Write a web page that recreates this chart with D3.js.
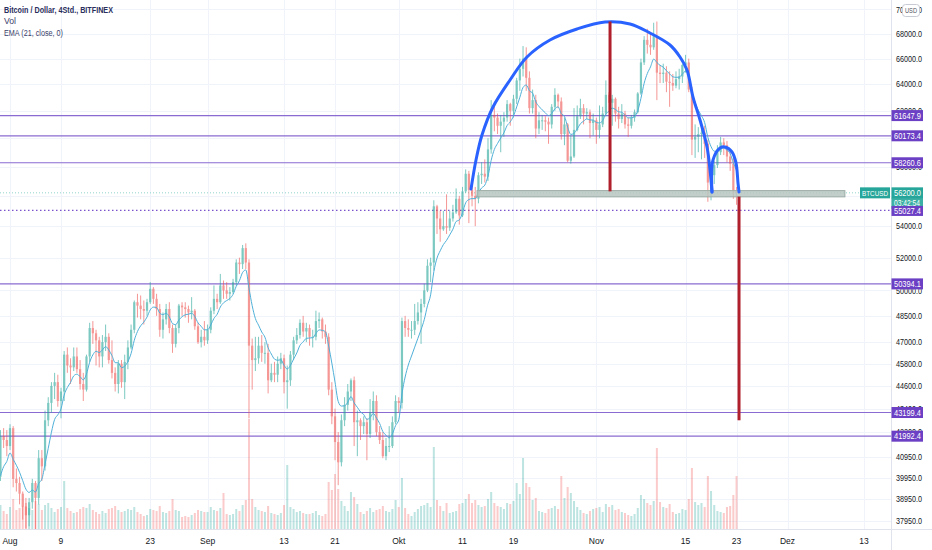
<!DOCTYPE html>
<html>
<head>
<meta charset="utf-8">
<script src="https://cdn.jsdelivr.net/npm/d3@7"></script>
<style>
html, body { margin: 0; padding: 0; background: #fff; }
svg { display: block; }
text { font-family: "Liberation Sans Narrow", "Liberation Sans", Arial, sans-serif; }
</style>
</head>
<body>
<div id="chart"></div>
<script>
// 12h candles, first one opens 2021-07-30 12:00 UTC, open = previous close
var firstOpen = 40000;
var closes = [
  42000,
  41800, 41500,
  // Aug
  42400, 39900, 39700, 39200, 38600, 38200, 38800, 39700, 39000, 40900, 40500, 42800, 43700, 44600,
  44800, 43800, 44300, 46300, 45700, 45600, 46200, 45500, 44700, 44400, 46200, 47800, 47500, 47100,
  46200, 47000, 47300, 46000, 45300, 44700, 45800, 44800, 45900, 46700, 47700, 49300, 49100, 48900,
  48800, 49300, 50100, 49500, 48900, 47700, 48300, 48900, 47800, 46900, 47800, 49100, 49000, 48900,
  48700, 48800, 47900, 47000, 47300, 47100,
  // Sep
  47700, 48800, 49500, 49300, 50300, 50000, 49800, 49900, 50500, 51700, 51600, 52600, 51700, 46800,
  46000, 46100, 46800, 46400, 46400, 44900, 45300, 45200, 45800, 46100, 44800, 44900, 46300, 47100,
  47400, 48100, 47600, 47800, 47300, 47300, 48200, 48300, 47600, 47300, 44400, 43000, 41700, 40700,
  42800, 43600, 44300, 44900, 42700, 42800, 42500, 42700, 42100, 43200, 43800, 42200, 41800, 41000,
  41500, 41500, 42700, 43800,
  // Oct
  43700, 48200, 47800, 47700, 47700, 48200, 48700, 49200, 50000, 51500, 51700, 55300, 54500, 53800,
  54000, 53900, 54500, 54900, 55800, 54700, 56300, 57500, 56400, 56000, 55800, 57400, 57500, 57300,
  59200, 61700, 61500, 60900, 61200, 61500, 62500, 62000, 62900, 64300, 65200, 66000, 64500, 62200,
  62800, 60700, 61300, 61300, 61200, 61000, 62300, 63200, 62700, 60300, 61000, 58400, 58700, 60600,
  61600, 62200, 61800, 61900, 61100, 61300,
  // Nov
  60600, 61000, 61800, 63200, 62600, 62900, 61800, 61400, 61800, 61000, 60900, 61500, 61900, 63300,
  65700, 67500, 67100, 66900, 67800, 64900, 64800, 64900, 64200, 64100, 63900, 64400, 64600, 65500,
  65700, 63600, 59900, 60100, 60300, 60400, 59600, 56900, 57400, 58100, 59000, 59700, 59500, 58700,
  58200, 56300, 56200
];
var highs = [
  42300,
  42400, 42300,
  42600, 42500, 40400, 40000, 39300, 39000, 39000, 39900, 39800, 41300, 41300, 43300, 44000, 44800,
  45300, 45200, 44500, 46500, 46700, 46100, 46700, 46700, 46000, 45300, 46300, 48100, 48200, 47700,
  47300, 47400, 48000, 47500, 47100, 45600, 46000, 46000, 46300, 47100, 48000, 49400, 49800, 49700,
  49400, 49500, 50500, 50200, 49800, 49200, 48700, 49200, 49300, 48000, 48000, 49200, 49300, 49300,
  49100, 49600, 48900, 48100, 47700, 48200,
  48000, 49000, 50300, 49800, 51000, 50600, 50500, 50200, 50700, 51900, 52000, 52800, 52900, 51900,
  47200, 47300, 47300, 47400, 47000, 46900, 45800, 45900, 46200, 46400, 46300, 45700, 46500, 47300,
  47800, 48300, 48500, 48100, 48000, 47700, 48800, 48700, 48400, 48000, 47500, 44800, 43400, 42200,
  43100, 44000, 44700, 45000, 45100, 43300, 42900, 43000, 42900, 43900, 44300, 44100, 42500, 42200,
  41900, 42500, 43000, 44100,
  44000, 48400, 48500, 48300, 48200, 49200, 49300, 49500, 50400, 51900, 52000, 55700, 55400, 55000,
  55000, 56100, 55000, 55400, 56500, 56000, 56600, 57800, 57700, 57000, 56600, 57600, 58300, 58500,
  60000, 62800, 62300, 61800, 61700, 61900, 62800, 62600, 63200, 64500, 66000, 67000, 66900, 65000,
  63600, 63200, 61900, 61700, 61600, 61500, 62500, 63700, 63300, 63000, 61500, 61100, 60200, 62200,
  62400, 62900, 62500, 62200, 62100, 61800,
  61500, 62400, 62300, 64300, 63400, 63200, 63000, 62300, 62500, 62000, 61500, 61700, 62100, 63400,
  66000, 67800, 68400, 68000, 68900, 69000, 65500, 65600, 65400, 65000, 64800, 65000, 65200, 65600,
  66300, 66000, 63800, 61000, 60800, 61000, 60900, 59900, 58000, 58400, 59500, 60100, 60000, 59800,
  59200, 58600, 56600
];
var lows = [
  39800,
  41400, 41000,
  41300, 39500, 39300, 38700, 38000, 37600, 37700, 38500, 37400, 38700, 39800, 40300, 42500, 43200,
  43900, 43500, 42900, 43800, 45300, 44700, 45400, 45300, 44400, 43800, 44300, 45900, 46900, 45700,
  45600, 45600, 46500, 45800, 45000, 44300, 44200, 44500, 43900, 45500, 46600, 47500, 48400, 48300,
  48000, 48500, 49200, 49200, 48500, 47300, 47200, 48000, 47500, 46400, 46700, 47500, 48500, 48400,
  48100, 48300, 47700, 46900, 46700, 46800,
  46900, 47500, 48600, 48900, 49200, 49500, 49500, 49400, 49800, 50300, 51000, 51300, 51300, 42900,
  44400, 45400, 45800, 45900, 45800, 44200, 44800, 44800, 44800, 45500, 44200, 43400, 44600, 46000,
  46900, 47200, 47300, 47000, 46800, 46700, 47100, 47800, 47200, 46900, 44100, 42600, 40800, 39600,
  40500, 42500, 43300, 43800, 41500, 41000, 41800, 42100, 40800, 41900, 42800, 42000, 41600, 40900,
  40800, 41200, 41400, 42600,
  43200, 43400, 47300, 47300, 47200, 47400, 48000, 46900, 49000, 49900, 50500, 51200, 53500, 53000,
  53700, 53500, 53700, 54300, 54800, 54100, 54600, 56200, 54200, 55300, 54000, 55500, 56800, 56900,
  57000, 58900, 60500, 60300, 59000, 60100, 61200, 60900, 61500, 62500, 63500, 64600, 63500, 61800,
  61800, 60000, 60300, 60600, 60500, 59600, 60700, 62000, 62200, 59900, 59500, 58300, 58200, 58600,
  60500, 61400, 61000, 61400, 60000, 60200,
  59600, 60000, 60800, 61600, 61900, 60900, 61200, 60700, 61100, 60700, 60100, 60700, 61200, 61800,
  63200, 65500, 66400, 66300, 66700, 62800, 64100, 64100, 63400, 62300, 63500, 63700, 63600, 64100,
  64900, 63400, 58800, 58600, 59000, 58500, 58600, 55600, 55700, 56800, 57900, 58800, 58800, 58300,
  57700, 55800, 55400
];
var volumes = [
  2400,
  1800, 1500,
  2200, 3000, 1900, 2100, 2300, 2600, 2100, 1900, 2800, 2500, 1900, 2400, 2600, 2100,
  1700, 2000, 2200, 4800, 2100, 1800, 1600, 1700, 2000, 2200, 2100, 2500, 1900, 1700,
  1500, 1800, 1600, 2000, 2100, 2300, 1900, 1700, 1800, 2000, 1900, 2200, 1700, 1500,
  1300, 1400, 2000, 1900, 1800, 2300, 1700, 1600, 1800, 3000, 1900, 1800, 1200, 1300,
  1200, 1400, 1600, 1900, 1800, 1700,
  1700, 2200, 1900, 1800, 2100, 3600, 1500, 1400, 1500, 2000, 1800, 2400, 2900, 11000,
  3000, 2200, 1900, 1800, 1700, 2300, 1600, 1500, 1400, 1600, 2400, 6400, 2200, 2000,
  1700, 1800, 1600, 1500, 1500, 1600, 1800, 1400, 1300, 1500, 4700, 3900, 5500, 4000,
  2800, 2300, 1800, 3700, 3200, 2500, 1700, 1500, 1800, 2100, 1700, 1900, 2000, 2300,
  1800, 1700, 2000, 2900,
  2200, 5100, 2100, 1500, 1300, 1700, 2000, 2300, 2400, 2600, 2200, 8200, 2900, 2300,
  1800, 2600, 1600, 1700, 1800, 2500, 2600, 3000, 3500, 2600, 2900, 2400, 2200, 2300,
  3000, 3700, 2600, 2300, 2200, 2000, 2600, 2500, 2800, 4600, 3500, 7100, 4600, 4200,
  2900, 3100, 1800, 1700, 1600, 2000, 2100, 2300, 2000, 5300, 3100, 4200, 3600, 2800,
  2200, 1900, 1600, 1500, 1800, 2000,
  2100, 2200, 1700, 2500, 2200, 2400, 1900, 2000, 1700, 1600, 1400, 1300, 1500, 2100,
  3400, 3000, 2600, 2400, 2800, 8100, 2700, 2200, 2100, 2500, 1700, 1500, 1600, 2000,
  1900, 3000, 6100, 2700, 2400, 2600, 2200, 5300, 3800, 2400, 1800, 1700, 1600, 2200,
  2300, 3400, 5300
];
var emaSeed = 39400;   // EMA value just before the first visible candle

var priceTicks = [70000, 68000, 66000, 64000, 62000, 60000, 58000, 56000, 54000, 52000, 50000,
  48500, 47000, 45800, 44600, 43400, 42200, 40950, 39950, 38950, 37950];
var dateTicks = ["2021-08-01", "2021-08-09", "2021-08-23", "2021-09-01", "2021-09-13", "2021-09-21",
  "2021-10-01", "2021-10-11", "2021-10-19", "2021-11-01", "2021-11-15", "2021-11-23", "2021-12-01", "2021-12-13"];
var dateLabels = ["Aug", "9", "23", "Sep", "13", "21", "Okt", "11", "19", "Nov", "15", "23", "Dez", "13"];

var levels = [61647.9, 60173.4, 58260.6, 50394.1, 43199.4, 41992.4];
var dottedLevel = 55027.4;
var lastPrice = 56200.0;
var countdown = "03:42:54";

// drawings: [days since Aug 1, price]
var bigArc = [[72.34, 56460], [73.12, 58454], [74.06, 60231], [75.79, 62286], [78.46, 64332],
  [81.12, 66130], [84.73, 67489], [88.97, 68384], [93.36, 68960], [97.28, 68795], [100.42, 68057],
  [103.56, 67086], [105.13, 66130], [106.23, 65107], [107.17, 63035], [108.27, 61323],
  [109.37, 59371], [109.84, 57758], [110.15, 56256]];
var smallArc = [[110.15, 56256], [110.31, 58454], [111.41, 59301], [112.19, 59371], [113.29, 59017],
  [113.92, 58242], [114.23, 56866], [114.39, 56256]];
var targetLines = [[94.15, 69000, 56300], [114.39, 55950, 42800]];
var neckBand = [73.28, 131.0, 56350, 55930];

var W = 932, H = 550, plotW = 891, plotH = 529;
var green = "#26a69a", red = "#ef5350", purple = "#6c40c4";

var aug1 = Date.UTC(2021, 7, 1);
function dayDate(d) { return new Date(aug1 + d * 864e5); }

var x = d3.scaleUtc()
  .domain([new Date(aug1), new Date(Date.UTC(2021, 11, 13))])
  .range([10, 864]);
var y = d3.scaleLog().domain([68000, 37950]).range([33.7, 520.7]);
var yv = d3.scaleLinear().domain([0, 12000]).range([plotH, plotH - 120]);

// build candles
var t0 = Date.UTC(2021, 6, 30, 12);
var candles = closes.map(function(c, i) {
  return {
    date: new Date(t0 + i * 12 * 3600e3),
    open: i === 0 ? firstOpen : closes[i - 1],
    high: highs[i], low: lows[i], close: c, vol: volumes[i]
  };
});
// EMA 21 on 4h is roughly EMA 7 on 12h
var alpha = 2 / (7 + 1), prev = emaSeed;
candles.forEach(function(d) { prev = alpha * d.close + (1 - alpha) * prev; d.ema = prev; });

var svg = d3.select("#chart").append("svg").attr("width", W).attr("height", H);
svg.append("rect").attr("width", W).attr("height", H).attr("fill", "#fff");

svg.append("clipPath").attr("id", "plot")
  .append("rect").attr("width", plotW).attr("height", plotH);
var g = svg.append("g").attr("clip-path", "url(#plot)");

// grid
g.selectAll(".vgrid").data(dateTicks).enter().append("line")
  .attr("x1", function(d) { return Math.round(x(new Date(d))) + 0.5; })
  .attr("x2", function(d) { return Math.round(x(new Date(d))) + 0.5; })
  .attr("y1", 0).attr("y2", plotH)
  .attr("stroke", "#f0f3fa");
g.selectAll(".hgrid").data(priceTicks).enter().append("line")
  .attr("x1", 0).attr("x2", plotW)
  .attr("y1", function(d) { return Math.round(y(d)) + 0.5; })
  .attr("y2", function(d) { return Math.round(y(d)) + 0.5; })
  .attr("stroke", "#f0f3fa");

// volume
g.selectAll(".vol").data(candles).enter().append("rect")
  .attr("x", function(d) { return x(d.date) - 1; })
  .attr("width", 2)
  .attr("y", function(d) { return yv(d.vol); })
  .attr("height", function(d) { return plotH - yv(d.vol); })
  .attr("fill", function(d) { return d.close >= d.open ? green : red; })
  .attr("opacity", 0.3);

// horizontal levels
g.selectAll(".lvl").data(levels).enter().append("line")
  .attr("x1", 0).attr("x2", plotW)
  .attr("y1", function(d) { return y(d); }).attr("y2", function(d) { return y(d); })
  .attr("stroke", "#8a6bd1").attr("stroke-width", 1.2);
g.append("line")
  .attr("x1", 0).attr("x2", plotW)
  .attr("y1", y(dottedLevel)).attr("y2", y(dottedLevel))
  .attr("stroke", "#7b52cc").attr("stroke-width", 1.2).attr("stroke-dasharray", "1.5,2.5");
g.append("line")
  .attr("x1", 0).attr("x2", plotW)
  .attr("y1", y(lastPrice)).attr("y2", y(lastPrice))
  .attr("stroke", "#8fd3ca").attr("stroke-width", 1).attr("stroke-dasharray", "1,2");

// candles
var cg = g.selectAll(".candle").data(candles).enter().append("g")
  .attr("opacity", 0.6);
cg.append("line")
  .attr("x1", function(d) { return x(d.date); }).attr("x2", function(d) { return x(d.date); })
  .attr("y1", function(d) { return y(d.high); }).attr("y2", function(d) { return y(d.low); })
  .attr("stroke", function(d) { return d.close >= d.open ? green : red; })
  .attr("stroke-width", 1);
cg.append("rect")
  .attr("x", function(d) { return x(d.date) - 1.1; })
  .attr("width", 2.2)
  .attr("y", function(d) { return y(Math.max(d.open, d.close)); })
  .attr("height", function(d) { return Math.max(1, Math.abs(y(d.open) - y(d.close))); })
  .attr("fill", function(d) { return d.close >= d.open ? green : red; });

// EMA
g.append("path").datum(candles)
  .attr("fill", "none").attr("stroke", "#4fb0d8").attr("stroke-width", 1)
  .attr("d", d3.line().curve(d3.curveMonotoneX)
    .x(function(d) { return x(d.date); })
    .y(function(d) { return y(d.ema); }));

// neckline band
g.append("rect")
  .attr("x", x(dayDate(neckBand[0]))).attr("width", x(dayDate(neckBand[1])) - x(dayDate(neckBand[0])))
  .attr("y", y(neckBand[2])).attr("height", y(neckBand[3]) - y(neckBand[2]))
  .attr("fill", "#b7c6c0").attr("fill-opacity", 0.85).attr("stroke", "#9aaca5").attr("stroke-width", 1);

// drawings
var arcLine = d3.line().curve(d3.curveCatmullRom)
  .x(function(d) { return x(dayDate(d[0])); })
  .y(function(d) { return y(d[1]); });
[bigArc, smallArc].forEach(function(pts) {
  g.append("path").datum(pts)
    .attr("fill", "none").attr("stroke", "#2962ff").attr("stroke-width", 3)
    .attr("stroke-linecap", "round").attr("d", arcLine);
});
g.selectAll(".target").data(targetLines).enter().append("line")
  .attr("x1", function(d) { return x(dayDate(d[0])); })
  .attr("x2", function(d) { return x(dayDate(d[0])); })
  .attr("y1", function(d) { return y(d[1]); })
  .attr("y2", function(d) { return y(d[2]); })
  .attr("stroke", "#b0202c").attr("stroke-width", 3);

// axis borders
svg.append("line").attr("x1", plotW + 0.5).attr("x2", plotW + 0.5).attr("y1", 0).attr("y2", H)
  .attr("stroke", "#e0e3eb");
svg.append("line").attr("x1", 0).attr("x2", W).attr("y1", plotH + 0.5).attr("y2", plotH + 0.5)
  .attr("stroke", "#e0e3eb");

var fmt = d3.format(".1f");
function squeeze(sel, w) {
  return sel.attr("textLength", w).attr("lengthAdjust", "spacingAndGlyphs");
}

// price axis labels (skip the ones that sit fully under a level label)
var covered = levels.concat([lastPrice]);
var shownTicks = priceTicks.filter(function(p) {
  return !covered.some(function(l) { return Math.abs(y(l) - y(p)) < 3; });
});
squeeze(svg.selectAll(".ptick").data(shownTicks).enter().append("text")
  .attr("x", 896).attr("y", function(d) { return y(d); })
  .attr("dy", "0.35em")
  .attr("font-size", "9px").attr("fill", "#131722")
  .text(function(d) { return fmt(d); }), 26);

// level labels
var lab = svg.selectAll(".lab").data(levels).enter().append("g");
lab.append("rect")
  .attr("x", 891.5).attr("width", 31.5)
  .attr("y", function(d) { return y(d) - 5.5; }).attr("height", 11)
  .attr("fill", purple);
squeeze(lab.append("text")
  .attr("x", 894).attr("y", function(d) { return y(d); }).attr("dy", "0.35em")
  .attr("font-size", "9px").attr("fill", "#fff")
  .text(function(d) { return fmt(d); }), 27);

// last price label + countdown
var ly = y(lastPrice);
svg.append("rect").attr("x", 891.5).attr("width", 31.5).attr("y", ly + 5).attr("height", 11)
  .attr("fill", green).attr("opacity", 0.9);
squeeze(svg.append("text").attr("x", 894).attr("y", ly + 10.5).attr("dy", "0.35em")
  .attr("font-size", "8.5px").attr("fill", "#fff").text(countdown), 26);
svg.append("rect").attr("x", 891.5).attr("width", 31.5).attr("y", y(dottedLevel) - 4.5).attr("height", 10)
  .attr("fill", purple);
squeeze(svg.append("text").attr("x", 894).attr("y", y(dottedLevel) + 0.5).attr("dy", "0.35em")
  .attr("font-size", "9px").attr("fill", "#fff").text(fmt(dottedLevel)), 27);
svg.append("rect").attr("x", 891.5).attr("width", 31.5).attr("y", ly - 5.5).attr("height", 11)
  .attr("fill", green);
squeeze(svg.append("text").attr("x", 894).attr("y", ly).attr("dy", "0.35em")
  .attr("font-size", "9px").attr("fill", "#fff").text(fmt(lastPrice)), 27);
svg.append("rect").attr("x", 860).attr("width", 30).attr("y", ly - 5.5).attr("height", 11)
  .attr("fill", green);
squeeze(svg.append("text").attr("x", 862).attr("y", ly).attr("dy", "0.35em")
  .attr("font-size", "8px").attr("fill", "#fff").text("BTCUSD"), 26);

// USD badge
svg.append("rect").attr("x", 902.5).attr("y", 4.5).attr("width", 17).attr("height", 12).attr("rx", 3)
  .attr("fill", "#fff").attr("stroke", "#c8cbd4");
squeeze(svg.append("text").attr("x", 905).attr("y", 10.5).attr("dy", "0.35em")
  .attr("font-size", "7px").attr("fill", "#50535e").text("USD"), 12);

// date labels
svg.selectAll(".dtick").data(dateTicks).enter().append("text")
  .attr("x", function(d) { return x(new Date(d)); })
  .attr("y", 541).attr("dy", "0.35em").attr("text-anchor", "middle")
  .attr("font-size", "8.5px").attr("fill", "#131722")
  .text(function(d, i) { return dateLabels[i]; });

// legend
var legend = [["Bitcoin / Dollar, 4Std., BITFINEX", 600, "#2a2e5c", 109], ["Vol", 400, "#3a3e6a", 12],
  ["EMA (21, close, 0)", 400, "#3a3e6a", 59]];
svg.selectAll(".legend").data(legend).enter().append("text")
  .attr("x", 4).attr("y", function(d, i) { return 13 + i * 11.3; })
  .attr("font-size", "8.5px").attr("font-weight", function(d) { return d[1]; })
  .attr("fill", function(d) { return d[2]; })
  .attr("textLength", function(d) { return d[3]; }).attr("lengthAdjust", "spacingAndGlyphs")
  .text(function(d) { return d[0]; });
</script>
</body>
</html>
